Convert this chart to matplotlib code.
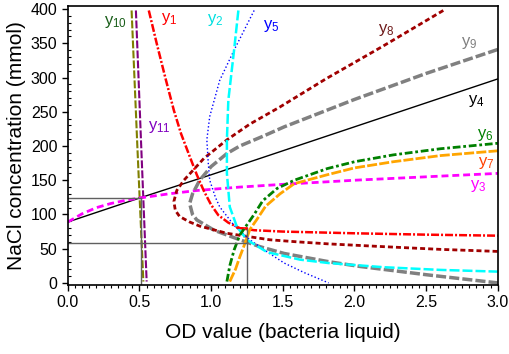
import numpy as np
import matplotlib.pyplot as plt
from matplotlib.ticker import MultipleLocator

plt.rcParams['font.family'] = ['Liberation Sans', 'DejaVu Sans']
plt.rcParams['mathtext.fontset'] = 'custom'
plt.rcParams['mathtext.rm'] = 'Liberation Sans'
plt.rcParams['mathtext.it'] = 'Liberation Sans'

# ---------------- valores ----------------
y1_x = [0.565, 0.62, 0.68, 0.74, 0.79, 0.85, 0.90, 0.95, 1.00, 1.05, 1.12, 1.20, 1.30, 1.50, 2.00, 2.50, 3.00]
y1_y = [398, 350, 300, 252, 218, 185, 158, 134, 114, 99, 88, 80, 77, 75, 72.5, 70.5, 69]

y2_x = [1.19, 1.16, 1.12, 1.11, 1.11, 1.13, 1.18, 1.25, 1.39, 1.62, 1.82, 2.20, 2.60, 3.00]
y2_y = [398, 340, 267, 209, 160, 111, 82, 63, 45, 34, 29, 23, 19, 16.5]

y3_x = [0.0, 0.1, 0.2, 0.3, 0.4, 0.5, 0.7, 0.9, 1.2, 1.5, 2.0, 2.5, 3.0]
y3_y = [89, 101, 110, 116, 120.5, 124, 130, 135, 140, 144, 150, 155, 160]

y4_x = [0.0, 0.5, 1.0, 1.5, 2.0, 2.5, 3.0]
y4_y = [89, 124, 158, 193, 228, 263, 298]

y5_x = [1.30, 1.16, 1.06, 0.99, 0.97, 0.98, 0.99, 1.03, 1.06, 1.16, 1.27, 1.40, 1.51, 1.65, 1.82]
y5_y = [398, 340, 296, 243, 209, 175, 150, 125, 111, 84, 63, 44, 29, 15, 0]

y6_x = [1.11, 1.13, 1.16, 1.20, 1.25, 1.30, 1.36, 1.46, 1.58, 1.81, 2.00, 2.27, 2.60, 3.00]
y6_y = [2, 25, 48, 70, 85, 100, 120, 138, 150, 167, 177, 187, 196, 204]

y7_x = [1.13, 1.17, 1.20, 1.24, 1.27, 1.32, 1.38, 1.48, 1.58, 1.81, 2.00, 2.27, 2.60, 3.00]
y7_y = [2, 20, 38, 60, 78, 93, 112, 130, 145, 158, 168, 177, 186, 193]

y8_x = [2.62, 2.20, 1.80, 1.48, 1.27, 1.11, 0.95, 0.81, 0.76, 0.74, 0.75, 0.78, 0.85, 0.92, 1.11, 1.25, 1.41, 1.60, 1.82, 2.20, 2.60, 3.00]
y8_y = [398, 346, 298, 257, 232, 209, 182, 150, 135, 119, 106, 97, 89, 83, 72.5, 68, 63, 60, 57, 53, 49, 46]

y9_x = [3.00, 2.50, 2.00, 1.51, 1.37, 1.20, 1.11, 1.00, 0.92, 0.87, 0.85, 0.87, 0.90, 1.02, 1.20, 1.34, 1.51, 1.82, 2.04, 2.50, 3.00]
y9_y = [341, 306, 268, 228, 215, 200, 189, 170, 150, 130, 116, 100, 92, 77, 63, 53, 43, 31, 24, 12, 0]

y10_x = [0.445, 0.485, 0.527]
y10_y = [398, 200, 2]

y11_x = [0.475, 0.512, 0.550]
y11_y = [398, 200, 2]

# puntos de interseccion marcados
cruce_x = [0.51, 1.25]
cruce_y = [124, 59]

fig = plt.figure(figsize=(5.1, 3.54), dpi=100)
ax = fig.add_axes([0.133, 0.195, 0.843, 0.788])

ax.plot(y10_x, y10_y, color='#7f7f00', lw=1.5, dashes=(3.8, 1))
ax.plot(y11_x, y11_y, color='#800080', lw=1.5, dashes=(3.8, 1))
ax.plot(y4_x, y4_y, color='black', lw=1)
ax.plot(y3_x, y3_y, color='#ff00ff', lw=2, dashes=(2.5, 1.4))
ax.plot(y9_x, y9_y, color='#808080', lw=2.5, dashes=(2.9, 0.9))
ax.plot(y8_x, y8_y, color='#a00000', lw=2, dashes=(1.8, 1.1))
ax.plot(y1_x, y1_y, color='#ff0000', lw=1.8, dashes=(3.2, 0.8, 0.8, 0.8))
ax.plot(y5_x, y5_y, color='#0000ff', lw=1, linestyle=':')
ax.plot(y2_x, y2_y, color='#00ffff', lw=1.8, dashes=(4, 1.2))
ax.plot(y6_x, y6_y, color='#008000', lw=2, dashes=(2.8, 1, 1, 1))
ax.plot(y7_x, y7_y, color='#ffa500', lw=2, dashes=(3.6, 0.8))

# lineas de referencia
for cx, cy in zip(cruce_x, cruce_y):
    ax.plot([0, cx], [cy, cy], color='#606060', lw=1)
    ax.plot([cx, cx], [-3, cy], color='#606060', lw=1)
ax.plot([1.25, 1.25], [59, 80], color='#606060', lw=1)
ax.plot([1.18, 1.25], [80, 80], color='#ff0000', lw=1.2)

# etiquetas de las curvas
etiquetas = [
    ('10', 0.33, 381, '#1a5e1a'),
    ('1', 0.71, 385, '#ff0000'),
    ('2', 1.03, 384, '#00e0e0'),
    ('5', 1.42, 375, '#0000ff'),
    ('8', 2.22, 369, '#6e1a1a'),
    ('9', 2.80, 350, '#808080'),
    ('4', 2.85, 266, 'black'),
    ('6', 2.91, 216, '#008000'),
    ('7', 2.92, 175, '#ff4000'),
    ('3', 2.86, 142, '#ff00ff'),
    ('11', 0.64, 228, '#8000c0'),
]
for sub, lx, ly, c in etiquetas:
    ax.text(lx, ly, 'y$_{\\mathregular{%s}}$' % sub, color=c, fontsize=12,
            ha='center', va='center')

ax.set_xlim(0, 3.0)
ax.set_ylim(-3, 404.5)
ax.xaxis.set_major_locator(MultipleLocator(0.5))
ax.xaxis.set_minor_locator(MultipleLocator(0.05))
ax.yaxis.set_major_locator(MultipleLocator(50))
ax.yaxis.set_minor_locator(MultipleLocator(10))
ax.xaxis.set_major_formatter(plt.FormatStrFormatter('%.1f'))
ax.tick_params(which='major', direction='out', length=4, width=1, labelsize=11.5)
ax.tick_params(axis='x', which='minor', direction='out', length=2.5, width=0.8)
ax.tick_params(axis='y', which='minor', direction='in', length=2, width=0.8)
for s in ax.spines.values():
    s.set_linewidth(1.2)

ax.set_xlabel('OD value (bacteria liquid)', fontsize=15, labelpad=9)
ax.set_ylabel('NaCl concentration (mmol)', fontsize=15, labelpad=3)

fig.savefig('out.png', dpi=100)
